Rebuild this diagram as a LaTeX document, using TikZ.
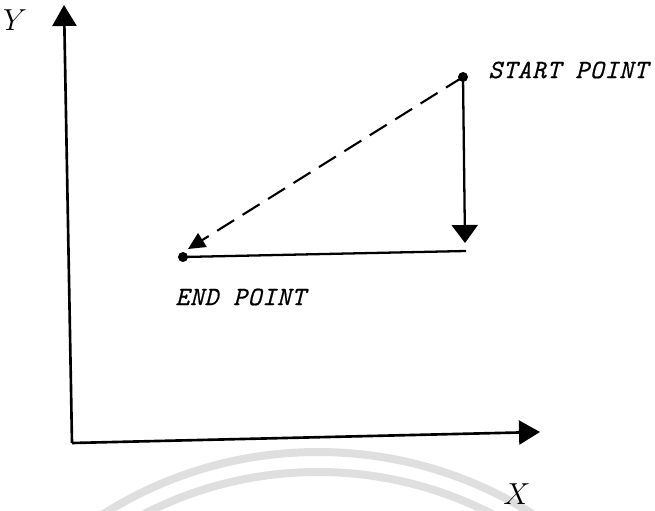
\documentclass[tikz,border=0pt]{standalone}
\usepackage{fontspec}
\newfontfamily\typefont[LetterSpace=3, FakeBold=0.5]{Latin Modern Mono}
\usetikzlibrary{arrows.meta}
\begin{document}
\begin{tikzpicture}[
    x=0.02cm, y=-0.02cm,
    axis/.style={line width=1.5pt, -{Triangle[length=0.42cm, width=0.48cm]}},
    move/.style={line width=1.3pt},
    downarrow/.style={line width=1.3pt, -{Triangle[length=0.36cm, width=0.52cm]}},
    dasharrow/.style={line width=1.2pt, dash pattern=on 0.4cm off 0.2cm, -{Triangle[length=0.34cm, width=0.32cm]}},
    dotpt/.style={circle, fill, inner sep=0pt, minimum size=0.2cm},
    ptlabel/.style={font=\typefont\itshape\fontsize{15}{17}\selectfont, anchor=west, inner sep=0pt},
    axislabel/.style={font=\fontsize{17}{19}\selectfont},
    watermark/.style={gray!25, line width=0.16cm}
]
\useasboundingbox (0,0) rectangle (655,510);

% Watermark arcs
\begin{scope}
\clip (0,0) rectangle (655,510);
\draw[watermark] (318,854) circle [radius=402];
\draw[watermark] (318,852) circle [radius=380];
\end{scope}

% Axes
\coordinate (origin) at (72,443);
\coordinate (ytip) at (64,5);
\coordinate (xtip) at (540,432);
\draw[axis] (origin) -- (ytip);
\draw[axis] (origin) -- (xtip);
\node[axislabel] (ylabel) at (15,20) {$Y$};
\node[axislabel] (xlabel) at (517,494) {$X$};

% Points
\node[dotpt] (start) at (463,77) {};
\node[dotpt] (end) at (183,257) {};
\coordinate (corner) at (466,251);
\node[ptlabel] (startlabel) at (488,70) {START POINT};
\node[ptlabel] (endlabel) at (175,297) {END POINT};

% Moves
\draw[downarrow] (start.center) -- (465,243);
\draw[move] (corner) -- (end.center);
\draw[dasharrow] (start.center) -- (188,249);

\end{tikzpicture}
\end{document}
